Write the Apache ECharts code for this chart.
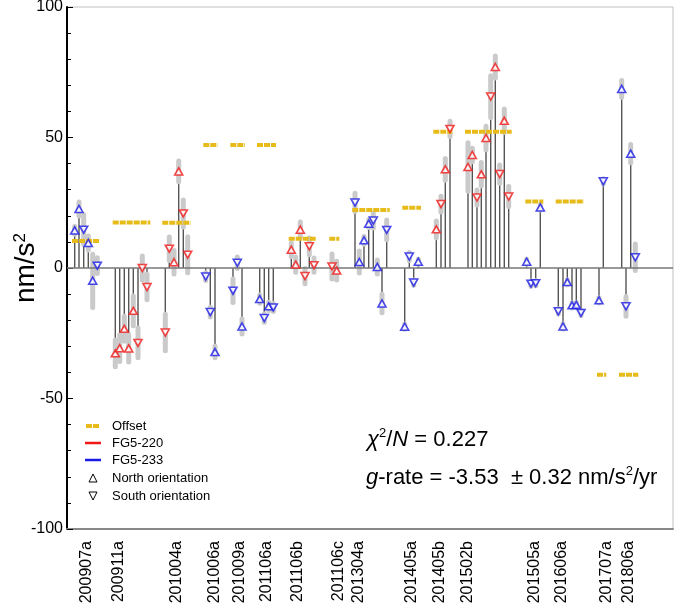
<!DOCTYPE html>
<html>
<head>
<meta charset="utf-8">
<script src="https://cdn.jsdelivr.net/npm/echarts@6/dist/echarts.min.js"></script>
<style>
html,body{margin:0;padding:0;background:#fff;}
#chart{width:685px;height:612px;}
</style>
</head>
<body>
<div id="chart"></div>
<script>
// ---- campaign labels (x position along the campaign axis) ----
const campaignLabels = ['200907a','200911a','201004a','201006a','201009a','201106a','201106b','201106c','201304a','201405a','201405b','201502b','201505a','201606a','201707a','201806a'];
const campaignPos = [20, 52, 110, 148, 173, 200, 231, 272, 292, 345, 373, 401, 468, 495, 540, 562];

// ---- individual drop-set results ----
const pointX = [7.7,12,16.7,21.3,25.7,30.3, 48.3,52.7,57.3,61.7,66.3,71,75.3,80, 98.3,102.3,107,111.7,116.3,120.7, 138.7,143.3,148, 166,170.3,175, 192.7,197.3,201.7,206.3, 224.3,228.7,233.3,238,242.3,247, 265,269.7, 288,292.3,297,301.7,306.3,310.3,315,319.7, 337.7,342.3,346.7,351.3, 369.3,374,378.3,383, 401,405.3,410,414.3,419,423.7,428.3,432.7,437.3,441.7, 459.7,464,468.7,473.3, 491.3,496,500.3,505,509.3,514, 532,536.3, 554.7,559,563.7,568.3];
const pointG = [14.4,22.6,14.7,9.6,-4.9,0.9, -32.7,-30.7,-23.3,-30.8,-16.4,-28.7,0,-7.3, -24.7,7.4,2.2,37,20.9,5.1, -3.3,-16.9,-32.2, -8.7,2.0,-22.4, -11.9,-19.2,-14.7,-15.1, 7.0,1.3,14.7,-3.1,8.3,1.1, 0.6,-1.0, 25.1,2.3,10.6,17.0,18.2,0.4,-13.6,14.6, -22.5,4.4,-5.6,2.4, 14.8,24.5,37.8,53.3, 38.7,43.3,27,35.9,49.8,65.7,77,36,56.4,27.4, 2.4,-6.0,-5.8,23.2, -16.6,-22.4,-5.4,-14.3,-14.1,-17.2, -12.4,33.2, 68.6,-14.7,43.8,4.1];
const pointErr = [1.5,2.7,5.7,2.7,10.2,3, 5.1,5.1,4.8,5.2,5.7,5.7,4.6,4.9, 7,4.5,4.5,4,5.2,6.9, 1.5,1.9,2.2, 4.5,2.2,2.9, 1.6,1.6,1.6,1.6, 2.6,2.9,2.9,2.9,3.2,2.7, 4.8,3.6, 3.5,4.2,1.5,1.5,2.9,2.7,3.5,3.8, 1,1.5,1,1, 3.2,3,4.2,2.9, 9.3,2.6,2.9,4.5,4.5,8,4.2,3.5,4.5,3.8, 1,1,1,1, 1,1,1,1,1,1, 1,1, 3.2,3.8,3.5,5.1];
const pointInstr = ['233','233','233','233','233','233', '220','220','220','220','220','220','220','220', '220','220','220','220','220','220', '233','233','233', '233','233','233', '233','233','233','233', '220','220','220','220','220','220', '220','220', '233','233','233','233','233','233','233','233', '233','233','233','233', '220','220','220','220', '220','220','220','220','220','220','220','220','220','220', '233','233','233','233', '233','233','233','233','233','233', '233','233', '233','233','233','233'];
const pointOrient = ['N','N','S','N','N','S', 'N','N','N','N','N','S','S','S', 'S','S','N','N','S','S', 'S','S','N', 'S','S','N', 'N','S','N','S', 'N','N','N','S','S','S', 'S','N', 'S','N','N','N','S','N','N','S', 'N','S','S','N', 'N','S','N','S', 'N','N','S','N','N','S','N','S','N','S', 'N','S','S','N', 'S','N','N','N','N','S', 'N','S', 'N','S','N','S'];

// ---- campaign offsets ----
const offsetStart = [5,45.7,95.3,136.3,163.3,190,221.7,262.3,285.3,335.3,366.3,398,458.3,488.7,530,552];
const offsetEnd   = [33,83.3,123.7,150.7,178,209,249.7,272.3,322.7,354,385.3,444.7,476.3,517,539.3,571.3];
const offsetValue = [10.3,17.4,17.3,47.1,47.1,47.1,11.2,11.2,22.2,23.1,52.2,52.2,25.5,25.5,-40.9,-40.9];

const RED = '#f01818', BLUE = '#1a1ae6', YEL = '#e6bb1a';
const FONT = '"Liberation Sans", Arial, sans-serif';

const pts = pointX.map((x, i) => [x, pointG[i], pointErr[i], pointInstr[i], pointOrient[i]]);
const offs = offsetStart.map((s, i) => [s, offsetEnd[i], offsetValue[i]]);

function subset(instr, orient) {
  return pts.filter(p => p[3] === instr && p[4] === orient).map(p => [p[0], p[1]]);
}

const chart = echarts.init(document.getElementById('chart'), null, {renderer: 'canvas'});

const option = {
  animation: false,
  backgroundColor: '#fff',
  grid: {left: 67, right: 12, top: 7, bottom: 83, show: true, borderColor: '#c0c0c0', borderWidth: 1,
    containLabel: false, outerBoundsMode: 'none'},
  xAxis: {
    type: 'value', min: 0, max: 606,
    splitLine: {show: false},
    axisLine: {show: true, onZero: false, lineStyle: {color: '#888', width: 2}},
    axisTick: {show: false},
    axisLabel: {
      customValues: campaignPos,
      rotate: 90, margin: 12,
      fontSize: 16, color: '#000', fontFamily: FONT,
      formatter: v => { const i = campaignPos.indexOf(v); return i >= 0 ? campaignLabels[i] : ''; }
    }
  },
  yAxis: {
    type: 'value', min: -100, max: 100, interval: 50,
    splitLine: {show: false},
    axisLine: {show: true, lineStyle: {color: '#000', width: 2}},
    axisTick: {show: true, inside: true, length: 6, lineStyle: {color: '#000', width: 1}},
    minorTick: {show: true, splitNumber: 5, length: 4, lineStyle: {color: '#000', width: 1}},
    axisLabel: {fontSize: 16, color: '#000', fontFamily: FONT, margin: 4}
  },
  series: [
    { // zero line
      type: 'line', data: [], silent: true,
      markLine: {symbol: 'none', silent: true, label: {show: false},
        lineStyle: {color: '#777', width: 1.5, type: 'solid'}, data: [{yAxis: 0}]}
    },
    { // stems
      type: 'custom', data: pts.map(p => [p[0], p[1]]), silent: true, z: 2,
      renderItem: (params, api) => {
        const a = api.coord([api.value(0), 0]);
        const b = api.coord([api.value(0), api.value(1)]);
        return {type: 'line', shape: {x1: a[0], y1: a[1], x2: b[0], y2: b[1]},
          style: {stroke: '#555', lineWidth: 1.4}};
      }
    },
    { // error bars
      type: 'custom', data: pts.map(p => [p[0], p[1], p[2]]), silent: true, z: 3,
      renderItem: (params, api) => {
        const x = api.value(0), v = api.value(1), e = api.value(2);
        const a = api.coord([x, v - e]);
        const b = api.coord([x, v + e]);
        return {type: 'line', shape: {x1: a[0], y1: a[1], x2: b[0], y2: b[1]},
          style: {stroke: '#cacaca', lineWidth: 5, lineCap: 'round'}};
      }
    },
    { // offsets
      type: 'custom', data: offs, silent: true, z: 4,
      renderItem: (params, api) => {
        const a = api.coord([api.value(0), api.value(2)]);
        const b = api.coord([api.value(1), api.value(2)]);
        return {type: 'line', shape: {x1: a[0], y1: a[1], x2: b[0], y2: b[1]},
          style: {stroke: YEL, lineWidth: 4, lineDash: [6, 1]}};
      }
    },
    {type: 'scatter', name: 'FG5-220 N', data: subset('220', 'N'), symbol: 'triangle', symbolSize: [8, 7], z: 5,
      itemStyle: {color: '#fff', borderColor: RED, borderWidth: 1.6}},
    {type: 'scatter', name: 'FG5-220 S', data: subset('220', 'S'), symbol: 'triangle', symbolRotate: 180, symbolSize: [8, 7], z: 5,
      itemStyle: {color: '#fff', borderColor: RED, borderWidth: 1.6}},
    {type: 'scatter', name: 'FG5-233 N', data: subset('233', 'N'), symbol: 'triangle', symbolSize: [8, 7], z: 5,
      itemStyle: {color: '#fff', borderColor: BLUE, borderWidth: 1.6}},
    {type: 'scatter', name: 'FG5-233 S', data: subset('233', 'S'), symbol: 'triangle', symbolRotate: 180, symbolSize: [8, 7], z: 5,
      itemStyle: {color: '#fff', borderColor: BLUE, borderWidth: 1.6}}
  ],
  graphic: [
    // y-axis title
    {type: 'text', x: 26, y: 268, rotation: Math.PI / 2, style: {
      text: '{n|nm/s}{sup|2}', align: 'center', verticalAlign: 'middle',
      rich: {
        n: {fontSize: 28, fontFamily: FONT, fill: '#000'},
        sup: {fontSize: 17, fontFamily: FONT, fill: '#000', verticalAlign: 'top', padding: [0, 0, 12, 0]}
      }}},
    // legend
    {type: 'line', shape: {x1: 86, y1: 426, x2: 100, y2: 426}, style: {stroke: YEL, lineWidth: 4, lineDash: [6, 1]}},
    {type: 'text', x: 112, y: 426, style: {text: 'Offset', fontSize: 13, fontFamily: FONT, fill: '#000', verticalAlign: 'middle'}},
    {type: 'line', shape: {x1: 85, y1: 443, x2: 101, y2: 443}, style: {stroke: RED, lineWidth: 2.5}},
    {type: 'text', x: 112, y: 443, style: {text: 'FG5-220', fontSize: 13, fontFamily: FONT, fill: '#000', verticalAlign: 'middle'}},
    {type: 'line', shape: {x1: 85, y1: 460, x2: 101, y2: 460}, style: {stroke: BLUE, lineWidth: 2.5}},
    {type: 'text', x: 112, y: 460, style: {text: 'FG5-233', fontSize: 13, fontFamily: FONT, fill: '#000', verticalAlign: 'middle'}},
    {type: 'polygon', shape: {points: [[93, 474], [89, 482], [97, 482]]}, style: {fill: 'none', stroke: '#000', lineWidth: 1}},
    {type: 'text', x: 112, y: 478, style: {text: 'North orientation', fontSize: 13, fontFamily: FONT, fill: '#000', verticalAlign: 'middle'}},
    {type: 'polygon', shape: {points: [[89, 492], [97, 492], [93, 500]]}, style: {fill: 'none', stroke: '#000', lineWidth: 1}},
    {type: 'text', x: 112, y: 496, style: {text: 'South orientation', fontSize: 13, fontFamily: FONT, fill: '#000', verticalAlign: 'middle'}},
    // annotations
    {type: 'text', x: 367, y: 440, style: {
      text: '{i|χ}{sup|2}{n|/}{i|N}{n| = 0.227}', verticalAlign: 'middle',
      rich: {
        i: {fontSize: 22, fontStyle: 'italic', fontFamily: FONT, fill: '#000'},
        n: {fontSize: 22, fontFamily: FONT, fill: '#000'},
        sup: {fontSize: 13, fontFamily: FONT, fill: '#000', verticalAlign: 'top', padding: [0, 0, 13, 0]}
      }}},
    {type: 'text', x: 366, y: 478, style: {
      text: '{i|g}{n|-rate = -3.53  ± 0.32 nm/s}{sup|2}{n|/yr}', verticalAlign: 'middle',
      rich: {
        i: {fontSize: 22, fontStyle: 'italic', fontFamily: FONT, fill: '#000'},
        n: {fontSize: 22, fontFamily: FONT, fill: '#000'},
        sup: {fontSize: 13, fontFamily: FONT, fill: '#000', verticalAlign: 'top', padding: [0, 0, 13, 0]}
      }}}
  ]
};
chart.setOption(option);
</script>
</body>
</html>
